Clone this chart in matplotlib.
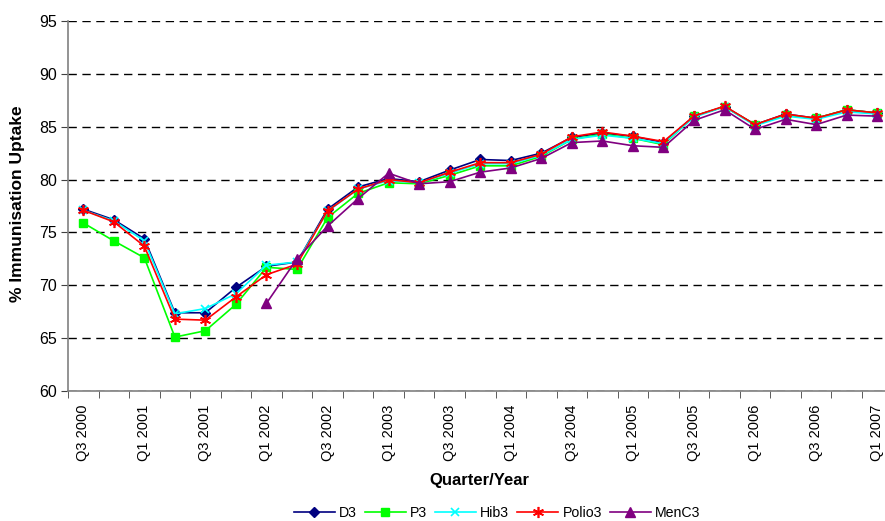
import numpy as np
import matplotlib
matplotlib.use("Agg")
import matplotlib.pyplot as plt

plt.rcParams['font.family'] = ['Liberation Sans', 'DejaVu Sans']

quarters = ["Q3 2000", "Q4 2000", "Q1 2001", "Q2 2001", "Q3 2001", "Q4 2001",
            "Q1 2002", "Q2 2002", "Q3 2002", "Q4 2002", "Q1 2003", "Q2 2003",
            "Q3 2003", "Q4 2003", "Q1 2004", "Q2 2004", "Q3 2004", "Q4 2004",
            "Q1 2005", "Q2 2005", "Q3 2005", "Q4 2005", "Q1 2006", "Q2 2006",
            "Q3 2006", "Q4 2006", "Q1 2007"]

d3 = [77.2, 76.2, 74.4, 67.4, 67.4, 69.8, 71.8, 72.2, 77.2, 79.3, 80.1, 79.8,
      80.9, 81.9, 81.8, 82.5, 84.0, 84.4, 84.1, 83.5, 86.0, 86.9, 85.2, 86.2,
      85.8, 86.6, 86.3]
p3 = [75.9, 74.2, 72.6, 65.1, 65.7, 68.2, 71.7, 71.5, 76.4, 78.7, 79.7, 79.6,
      80.4, 81.3, 81.3, 82.2, 83.8, 84.3, 83.9, 83.3, 86.0, 86.9, 85.2, 86.1,
      85.8, 86.6, 86.3]
hib3 = [77.1, 76.1, 74.2, 67.3, 67.8, 69.2, 71.9, 72.2, 77.0, 79.1, 79.9, 79.7,
        80.6, 81.5, 81.5, 82.3, 83.8, 84.2, 83.9, 83.4, 85.9, 86.9, 85.1, 86.0,
        85.7, 86.4, 86.2]
polio3 = [77.1, 76.0, 73.7, 66.8, 66.7, 68.9, 71.0, 72.0, 77.05, 79.1, 80.0, 79.7,
          80.7, 81.6, 81.6, 82.4, 84.05, 84.5, 84.1, 83.6, 86.0, 86.95, 85.2, 86.2,
          85.8, 86.6, 86.3]
menc3 = [np.nan, np.nan, np.nan, np.nan, np.nan, np.nan, 68.3, 72.5, 75.6, 78.2,
         80.6, 79.6, 79.8, 80.7, 81.1, 82.0, 83.5, 83.65, 83.2, 83.05, 85.6, 86.6,
         84.75, 85.7, 85.2, 86.1, 86.0]

series = [
    ("D3", d3, "#000080", "D", 5.5, {}),
    ("P3", p3, "#00FF00", "s", 5.5, {}),
    ("Hib3", hib3, "#00FFFF", "x", 6, {"markeredgewidth": 1.2}),
    ("Polio3", polio3, "#FF0000", (6, 2, 0), 8, {"markeredgewidth": 1.2}),
    ("MenC3", menc3, "#800080", "^", 7, {}),
]

W, H = 885, 521
fig = plt.figure(figsize=(W / 100, H / 100), dpi=100)
left, right, top, bottom = 68, 892.5, 21, 391
ax = fig.add_axes([left / W, (H - bottom) / H, (right - left) / W, (bottom - top) / H])

x = np.arange(len(quarters))
for name, vals, col, mk, ms, kw in series:
    ax.plot(x, vals, color=col, marker=mk, markersize=ms, linewidth=1.2,
            markerfacecolor=col, markeredgecolor=col, label=name, clip_on=False, **kw)

ax.set_xlim(-0.5, len(quarters) - 0.5)
ax.set_ylim(60, 95)
ax.set_yticks(np.arange(60, 96, 5))
ax.yaxis.grid(True, linestyle=(0, (6, 4)), color='black', linewidth=1.0)
ax.set_axisbelow(True)

ax.set_xticks(x[::2])
ax.set_xticklabels(quarters[::2], rotation=90, fontsize=10.5)
ax.set_xticks(np.arange(-0.5, len(quarters), 1.0), minor=True)
ax.tick_params(axis='x', which='major', length=0, pad=10)
ax.tick_params(axis='x', which='minor', length=5, direction='out', color='#404040')
ax.tick_params(axis='y', which='major', length=5, direction='out', labelsize=11.5,
               color='#404040', pad=3)

for s in ['top', 'right']:
    ax.spines[s].set_visible(False)
for s in ['left', 'bottom']:
    ax.spines[s].set_color('#808080')
    ax.spines[s].set_linewidth(1.2)

fig.text(479 / W, (H - 481) / H, "Quarter/Year", ha='center', va='center',
         fontsize=12, fontweight='bold')
fig.text(18 / W, (H - 204) / H, "% Immunisation Uptake", ha='center', va='center',
         rotation=90, fontsize=12.5, fontweight='bold')

fig.legend(loc='center', bbox_to_anchor=(497 / W, (H - 513) / H), ncol=5,
           frameon=False, fontsize=10.2, handlelength=2.9, handletextpad=0.3,
           columnspacing=0.55, borderpad=0)

fig.savefig("out.png", dpi=100)
